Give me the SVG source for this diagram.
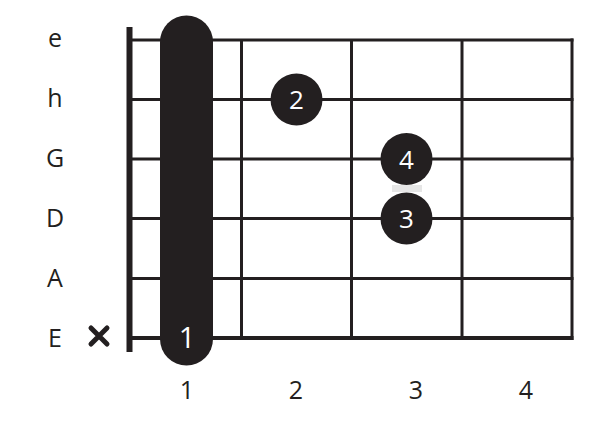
<svg xmlns="http://www.w3.org/2000/svg" width="598" height="430" viewBox="0 0 598 430">
<style>
.lbl{font-family:"Open Sans","Noto Sans",sans-serif;font-size:25px;fill:#231f20;text-anchor:middle}
.fn{font-family:"Open Sans","Noto Sans",sans-serif;font-size:26px;fill:#ffffff;text-anchor:middle}
.str{stroke:#231f20;stroke-width:3}
.fret{stroke:#231f20;stroke-width:3}
.dot{fill:#231f20}
</style>
<rect width="598" height="430" fill="#ffffff"/>
<g id="grid">
<line class="str" x1="132" y1="40" x2="573.5" y2="40"/>
<line class="str" x1="132" y1="99.5" x2="573.5" y2="99.5"/>
<line class="str" x1="132" y1="159" x2="573.5" y2="159"/>
<line class="str" x1="132" y1="218.5" x2="573.5" y2="218.5"/>
<line class="str" x1="132" y1="278.5" x2="573.5" y2="278.5"/>
<line class="str" x1="132" y1="338" x2="573.5" y2="338" style="stroke-width:4"/>
<line class="fret" x1="241.5" y1="40" x2="241.5" y2="338"/>
<line class="fret" x1="351.5" y1="40" x2="351.5" y2="338"/>
<line class="fret" x1="462" y1="40" x2="462" y2="338"/>
<line class="fret" x1="572" y1="38.5" x2="572" y2="340"/>
<rect x="126.5" y="27" width="6" height="325" fill="#231f20"/>
</g>
<g id="string-labels">
<text class="lbl" x="55" y="47">e</text>
<text class="lbl" x="55" y="107">h</text>
<text class="lbl" x="55" y="167">G</text>
<text class="lbl" x="55" y="227">D</text>
<text class="lbl" x="55" y="287">A</text>
<text class="lbl" x="55" y="347">E</text>
</g>
<g id="mute">
<path d="M91 328 L107 344 M107 328 L91 344" stroke="#231f20" stroke-width="5" stroke-linecap="round" fill="none"/>
</g>
<g id="fret-numbers">
<text class="lbl" x="187" y="399">1</text>
<text class="lbl" x="296" y="399">2</text>
<text class="lbl" x="416" y="399">3</text>
<text class="lbl" x="526" y="399">4</text>
</g>
<g id="barre">
<rect class="dot" x="160" y="15.5" width="53" height="350" rx="26.5" ry="26.5"/>
<text class="fn" x="187" y="348" style="font-size:29px">1</text>
</g>
<rect x="392" y="185" width="30" height="7" fill="#e6e6e6"/>
<g id="finger2">
<circle class="dot" cx="296.5" cy="99.5" r="26"/>
<text class="fn" x="296.5" y="109">2</text>
</g>
<g id="finger4">
<circle class="dot" cx="406.5" cy="159" r="26"/>
<text class="fn" x="406.5" y="168.5">4</text>
</g>
<g id="finger3">
<circle class="dot" cx="406.5" cy="218.5" r="26"/>
<text class="fn" x="406.5" y="228">3</text>
</g>
</svg>
